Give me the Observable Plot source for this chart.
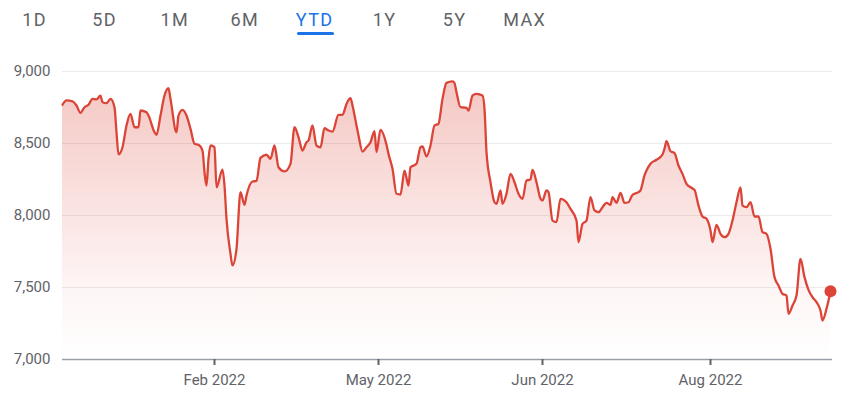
<!DOCTYPE html>
<html>
<head>
<meta charset="utf-8">
<script src="https://cdn.jsdelivr.net/npm/d3@7"></script>
<script src="https://cdn.jsdelivr.net/npm/@observablehq/plot@0.6"></script>
<style>
  html, body { margin: 0; padding: 0; background: #fff; }
  #wrap { width: 850px; font-family: Roboto, "Noto Sans", sans-serif; }
  #tabs { position: relative; height: 45px; display: flex; align-items: flex-start; margin-left: -1px; }
  #tabs .slot { width: 70px; text-align: center; margin-top: 10px; }
  #tabs span { position: relative; display: inline-block; font-size: 18px; letter-spacing: 1.4px; margin-right: -1.4px; color: #5f6368; line-height: 20px; }
  #tabs span.active { color: #1a73e8; }
  #tabs span.active::after { content: ""; position: absolute; left: 1px; right: 0px; top: 22px; height: 3px; border-radius: 2px; background: #1a73e8; }
  svg { display: block; }
</style>
</head>
<body>
<div id="wrap">
  <div id="tabs"></div>
  <div id="chart"></div>
</div>
<script>
// ---- data ----
const tabs = ["1D", "5D", "1M", "6M", "YTD", "1Y", "5Y", "MAX"];
const activeTab = "YTD";

const yTicks = [7000, 7500, 8000, 8500, 9000];
const xTicks = [76, 158, 240, 324];
const xTickLabels = ["Feb 2022", "May 2022", "Jun 2022", "Aug 2022"];

// session index
const t = [
  0,2,5,7,9,11,13,15,17,19,
  20,22,24,26,27,28,30,32,34,36,
  38,39,42,43,46,47,49,51,53,54,
  57,58,60,62,64,66,68,70,71,72,
  73,74,76,77,80,81,82,84,85,87,
  89,91,92,95,97,99,102,104,106,108,
  111,114,116,118,120,122,123,125,127,129,
  131,133,135,138,140,142,144,145,147,148,
  150,152,154,156,157,159,162,163,165,167,
  169,171,173,174,177,179,180,182,184,186,
  188,190,192,195,196,197,199,202,203,205,
  207,210,211,212,214,216,217,219,220,222,
  224,226,228,230,232,234,235,237,239,240,
  242,243,245,247,249,252,254,257,258,260,
  262,264,266,268,270,272,274,275,277,279,
  281,283,285,288,289,291,292,294,297,300,
  301,302,304,306,308,310,312,314,316,318,
  320,322,324,325,327,329,331,333,335,337,
  339,340,342,344,346,348,350,352,354,356,
  358,360,362,363,365,367,369,371,373,375,
  377,379,380,382,384
];
// price
const v = [
  8769,8799,8792,8764,8713,8752,8769,8810,8806,8833,
  8787,8780,8810,8752,8578,8424,8474,8625,8706,8613,
  8613,8729,8717,8694,8578,8560,8694,8833,8884,8810,
  8578,8694,8734,8694,8602,8498,8491,8451,8301,8208,
  8394,8486,8474,8196,8319,8208,7977,7734,7653,7769,
  8162,8074,8139,8236,8240,8400,8422,8394,8486,8335,
  8306,8359,8613,8544,8451,8509,8521,8625,8486,8474,
  8606,8590,8583,8699,8699,8775,8815,8764,8625,8556,
  8444,8474,8509,8585,8440,8595,8491,8428,8324,8151,
  8146,8312,8208,8335,8359,8474,8479,8410,8486,8625,
  8637,8810,8921,8931,8920,8856,8752,8748,8729,8833,
  8845,8833,8741,8440,8231,8092,8081,8174,8081,8151,
  8289,8231,8151,8116,8243,8250,8317,8231,8116,8104,
  8174,8162,7965,7954,8116,8092,8046,7965,7815,7942,
  7965,8127,8035,8023,8058,8088,8074,8127,8088,8157,
  8088,8092,8144,8162,8174,8278,8312,8359,8387,8424,
  8463,8516,8446,8433,8347,8289,8220,8196,8178,8069,
  7993,7977,7896,7815,7935,7873,7850,7873,7965,8092,
  8196,8069,8058,8092,7993,7993,7884,7873,7769,7572,
  7514,7456,7444,7317,7375,7444,7699,7572,7484,7433,
  7398,7340,7271,7352,7474
];

// ---- tabs ----
const tabsEl = document.getElementById("tabs");
for (const label of tabs) {
  const slot = document.createElement("div");
  slot.className = "slot";
  const s = document.createElement("span");
  s.textContent = label;
  if (label === activeTab) s.className = "active";
  slot.appendChild(s);
  tabsEl.appendChild(slot);
}

// ---- chart ----
const data = t.map((d, i) => ({t: d, v: v[i]}));
const last = [data[data.length - 1]];
const red = "#db4437";
const yBase = yTicks[0];

const chart = Plot.plot({
  width: 850,
  height: 356,
  marginTop: 26,
  marginBottom: 42,
  marginLeft: 62,
  marginRight: 18,
  style: {fontFamily: "Roboto, 'Noto Sans', sans-serif", fontSize: "15px", color: "#5f6368", background: "transparent"},
  x: {domain: [0, 385], label: null},
  y: {domain: [yTicks[0], yTicks[yTicks.length - 1]], label: null},
  marks: [
    Plot.gridY(yTicks.slice(1), {stroke: "#ebebeb", strokeOpacity: 1, strokeWidth: 1}),
    Plot.areaY(data, {x: "t", y1: () => yBase, y2: "v", curve: "monotone-x", fill: "url(#areaGrad)"}),
    Plot.ruleY([yBase], {stroke: "#9aa0a6", strokeWidth: 1.5}),
    Plot.lineY(data, {x: "t", y: "v", curve: "monotone-x", stroke: red, strokeWidth: 2.3}),
    Plot.dot(last, {x: "t", y: "v", r: 6, fill: red, stroke: "none"}),
    Plot.axisY({ticks: yTicks, tickSize: 0, tickPadding: 12, tickFormat: d3.format(","), anchor: "left", label: null}),
    Plot.axisX({ticks: xTicks, tickSize: 6, tickPadding: 9, strokeWidth: 2, stroke: "#5f6368", label: null,
      tickFormat: d => xTickLabels[xTicks.indexOf(d)]})
  ]
});

// gradient definition for the area fill
const ns = "http://www.w3.org/2000/svg";
const defs = document.createElementNS(ns, "defs");
const grad = document.createElementNS(ns, "linearGradient");
grad.setAttribute("id", "areaGrad");
grad.setAttribute("x1", "0"); grad.setAttribute("x2", "0");
grad.setAttribute("y1", "0"); grad.setAttribute("y2", "1");
[[0, 0.30], [0.45, 0.15], [0.75, 0.05], [1, 0]].forEach(([o, a]) => {
  const st = document.createElementNS(ns, "stop");
  st.setAttribute("offset", o);
  st.setAttribute("stop-color", red);
  st.setAttribute("stop-opacity", a);
  grad.appendChild(st);
});
defs.appendChild(grad);
chart.insertBefore(defs, chart.firstChild);

document.getElementById("chart").appendChild(chart);
</script>
</body>
</html>
